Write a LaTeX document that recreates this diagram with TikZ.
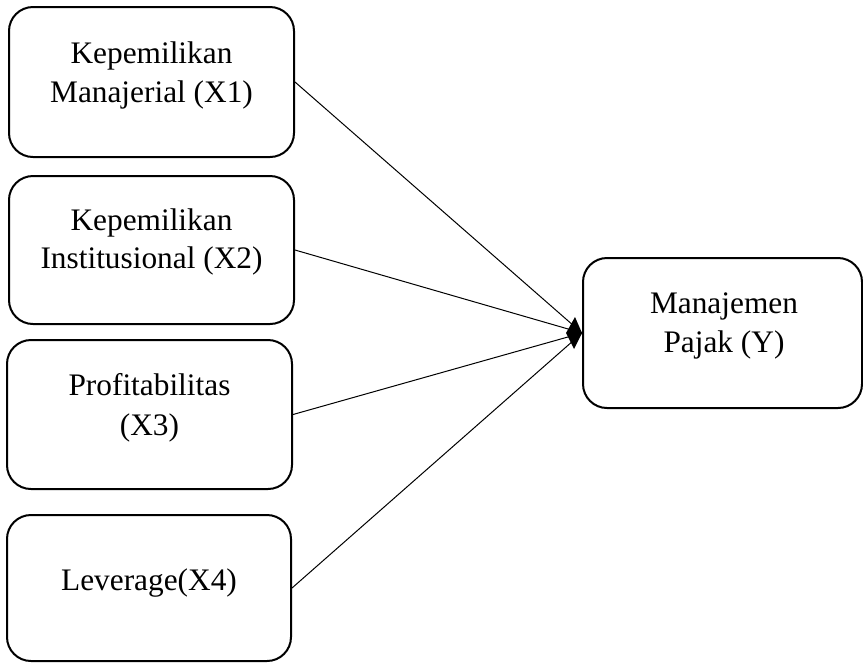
\documentclass[tikz,border=0pt]{standalone}
\usepackage{fontspec}
\setmainfont{Liberation Serif}
\usetikzlibrary{arrows.meta}
\begin{document}
\begin{tikzpicture}[x=0.75pt,y=-0.75pt,
  box/.style={draw,line width=1.5pt,rounded corners=18pt,inner sep=0pt},
  txt/.style={font=\fontsize{23.5}{29}\selectfont,anchor=base,inner sep=0pt},
  conn/.style={line width=0.75pt}]
\useasboundingbox (0,0) rectangle (863,662);
\node[box,minimum width=213.75pt,minimum height=112.5pt] (x1) at (151.5,82) {};
\node[box,minimum width=213.75pt,minimum height=111pt] (x2) at (151.5,250) {};
\node[box,minimum width=213.75pt,minimum height=111.75pt] (x3) at (149.5,414.5) {};
\node[box,minimum width=213pt,minimum height=109.5pt] (x4) at (149,588) {};
\node[box,minimum width=209.25pt,minimum height=112.5pt] (y) at (722.5,333) {};
\node[txt] (t1a) at (151.5,63) {Kepemilikan};
\node[txt] (t1b) at (151.5,102) {Manajerial (X1)};
\node[txt] (t2a) at (151.5,230) {Kepemilikan};
\node[txt] (t2b) at (151.5,268) {Institusional (X2)};
\node[txt] (t3a) at (149.5,395) {Profitabilitas};
\node[txt] (t3b) at (149.5,435) {(X3)};
\node[txt] (t4a) at (149,590) {Leverage(X4)};
\node[txt] (tya) at (724,313) {Manajemen};
\node[txt] (tyb) at (724,352) {Pajak (Y)};
\draw[conn] (x1.east) -- (y.west);
\draw[conn] (x2.east) -- (y.west);
\draw[conn] (x3.east) -- (y.west);
\draw[conn] (x4.east) -- (y.west);
\fill (y.west) -- ++(-7,-16) -- ++(-9,16) -- ++(8,16) -- cycle;
\end{tikzpicture}
\end{document}
